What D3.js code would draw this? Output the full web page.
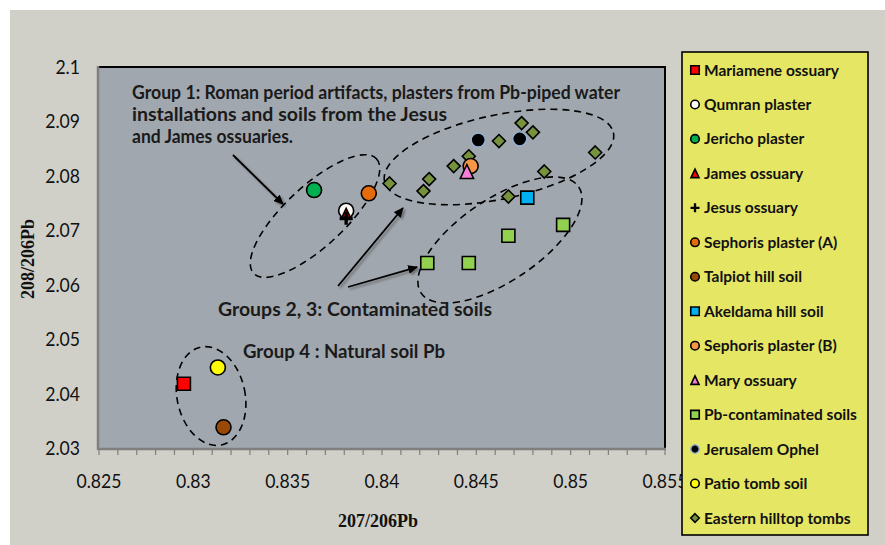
<!DOCTYPE html>
<html><head><meta charset="utf-8">
<script src="https://cdn.jsdelivr.net/npm/d3@7"></script>
<style>
html,body{margin:0;padding:0;background:#fff;}
svg{display:block;}
</style></head><body>
<svg id="chart" width="885" height="545"></svg>
<script>
// ---------- data ----------
const seriesNames = ["Mariamene ossuary","Qumran plaster","Jericho plaster","James ossuary","Jesus ossuary",
  "Sephoris plaster (A)","Talpiot hill soil","Akeldama hill soil","Sephoris plaster (B)","Mary ossuary",
  "Pb-contaminated soils","Jerusalem Ophel","Patio tomb soil","Eastern hilltop tombs"];
const mariamene = [[0.8295, 2.0418]];
const qumran = [[0.8381, 2.0736]];
const jericho = [[0.8364, 2.0774]];
const james = [[0.8381, 2.0730]];
const jesus = [[0.8381, 2.0722]];
const sephorisA = [[0.8393, 2.0768]];
const talpiot = [[0.8316, 2.0338]];
const akeldama = [[0.8477, 2.0760]];
const sephorisB = [[0.8447, 2.0818]];
const mary = [[0.8445, 2.0808]];
const pbSoils = [[0.8496, 2.0710], [0.8467, 2.0690], [0.8424, 2.0640], [0.8446, 2.0640]];
const ophel = [[0.8451, 2.0866], [0.8473, 2.0868]];
const patio = [[0.8313, 2.0448]];
const eastern = [[0.8404, 2.0786], [0.8422, 2.0772], [0.8425, 2.0794], [0.8438, 2.0818], [0.8446, 2.0836],
  [0.8462, 2.0864], [0.8474, 2.0897], [0.8480, 2.0880], [0.8486, 2.0808], [0.8467, 2.0762], [0.8513, 2.0843]];
const seriesValues = [mariamene, qumran, jericho, james, jesus, sephorisA, talpiot, akeldama,
  sephorisB, mary, pbSoils, ophel, patio, eastern];

const xTicks = [0.825, 0.83, 0.835, 0.84, 0.845, 0.85, 0.855];
const yTicks = [2.03, 2.04, 2.05, 2.06, 2.07, 2.08, 2.09, 2.1];
const xTitle = "207/206Pb";
const yTitle = "208/206Pb";
const group1Lines = ["Group 1: Roman period artifacts, plasters from Pb-piped water",
  "installations and soils from the Jesus", "and James ossuaries."];
const group23Label = "Groups 2, 3: Contaminated soils";
const group4Label = "Group 4 : Natural soil Pb";

// ---------- styles ----------
const styles = {
  "Mariamene ossuary": {shape: "square", fill: "#ff0000", s: 13},
  "Qumran plaster": {shape: "circle", fill: "#fbf9f2", s: 15},
  "Jericho plaster": {shape: "circle", fill: "#00b050", s: 15},
  "James ossuary": {shape: "triangle", fill: "#ff0000", s: 11},
  "Jesus ossuary": {shape: "plus", fill: "#000000", s: 13},
  "Sephoris plaster (A)": {shape: "circle", fill: "#e46c0a", s: 15},
  "Talpiot hill soil": {shape: "circle", fill: "#984807", s: 15},
  "Akeldama hill soil": {shape: "square", fill: "#00b0f0", s: 13},
  "Sephoris plaster (B)": {shape: "circle", fill: "#f79646", s: 15},
  "Mary ossuary": {shape: "triangle", fill: "#f47fd6", s: 14},
  "Pb-contaminated soils": {shape: "square", fill: "#92d050", s: 13},
  "Jerusalem Ophel": {shape: "circle", fill: "#000000", s: 14, stroke: "#95b3d7"},
  "Patio tomb soil": {shape: "circle", fill: "#ffff00", s: 15},
  "Eastern hilltop tombs": {shape: "diamond", fill: "#76923c", s: 13}
};

const svg = d3.select("#chart");
const W = 885, H = 545;
const plot = {left: 99, right: 665, top: 67, bottom: 448};
const x = d3.scaleLinear().domain([0.825, 0.855]).range([plot.left, plot.right]);
const y = d3.scaleLinear().domain([2.03, 2.1]).range([plot.bottom, plot.top]);

const calibri = "Lato, 'Open Sans', sans-serif";
function narrow(sel, f) {
  sel.each(function () {
    const L = this.getComputedTextLength();
    this.setAttribute("textLength", (L * f).toFixed(1));
    this.setAttribute("lengthAdjust", "spacingAndGlyphs");
  });
}
function fitTo(sel, widths) {
  sel.each(function (d, i) {
    this.setAttribute("textLength", widths[i]);
    this.setAttribute("lengthAdjust", "spacingAndGlyphs");
  });
}

// defs
const defs = svg.append("defs");
defs.append("marker").attr("id", "ah").attr("viewBox", "0 0 10 10").attr("refX", 9).attr("refY", 5)
  .attr("markerWidth", 10).attr("markerHeight", 10).attr("markerUnits", "userSpaceOnUse").attr("orient", "auto")
  .append("path").attr("d", "M0,0.5 L10,5 L0,9.5 Z").attr("fill", "#000");
const sh = defs.append("filter").attr("id", "shadow").attr("x", "-20%").attr("y", "-20%").attr("width", "140%").attr("height", "140%");
sh.append("feDropShadow").attr("dx", 2).attr("dy", 2).attr("stdDeviation", 1.3).attr("flood-color", "#000").attr("flood-opacity", 0.35);

// backgrounds
svg.append("rect").attr("x", 0).attr("y", 0).attr("width", W).attr("height", H).attr("fill", "#ffffff");
svg.append("rect").attr("x", 10).attr("y", 10).attr("width", W - 10).attr("height", H - 10).attr("fill", "#d0d0c9");
svg.append("rect").attr("x", plot.left).attr("y", plot.top).attr("width", plot.right - plot.left)
  .attr("height", plot.bottom - plot.top).attr("fill", "#a1a7ae");
svg.append("path").attr("d", `M${plot.left},${plot.top}H${plot.right}V${plot.bottom}`)
  .attr("fill", "none").attr("stroke", "#000").attr("stroke-width", 2);

// x axis with minor ticks
const minor = d3.range(0, 31).map(i => 0.825 + i * 0.001);
const gx = svg.append("g").attr("transform", `translate(0,${plot.bottom + 1})`);
gx.append("line").attr("x1", plot.left - 1).attr("x2", plot.right + 1).attr("stroke", "#7f7f7f").attr("stroke-width", 2.5);
gx.selectAll("line.t").data(minor).join("line").attr("class", "t")
  .attr("x1", d => x(d)).attr("x2", d => x(d)).attr("y1", 0).attr("y2", 6)
  .attr("stroke", "#7f7f7f").attr("stroke-width", 1.2);
const xl = svg.append("g").selectAll("text").data(xTicks).join("text")
  .attr("x", d => x(d)).attr("y", 488).attr("text-anchor", "middle")
  .attr("font-family", calibri).attr("font-size", 20).attr("fill", "#111")
  .text(d => String(+d.toFixed(3)));
narrow(xl, 0.88);

// y axis
svg.append("line").attr("x1", plot.left - 1).attr("x2", plot.left - 1).attr("y1", plot.top - 1).attr("y2", plot.bottom + 2)
  .attr("stroke", "#7f7f7f").attr("stroke-width", 2.5);
const yl = svg.append("g").selectAll("text").data(yTicks).join("text")
  .attr("x", 80).attr("y", d => y(d) + 7).attr("text-anchor", "end")
  .attr("font-family", calibri).attr("font-size", 20).attr("fill", "#111")
  .text(d => String(+d.toFixed(2)));
narrow(yl, 0.88);

// axis titles
svg.append("text").attr("x", 378).attr("y", 527).attr("text-anchor", "middle")
  .attr("font-family", "'Liberation Serif', 'Times New Roman', serif").attr("font-weight", "bold")
  .attr("font-size", 18).attr("fill", "#111").text(xTitle);
svg.append("text").attr("transform", "translate(34,259) rotate(-90)").attr("text-anchor", "middle")
  .attr("font-family", "'Liberation Serif', 'Times New Roman', serif").attr("font-weight", "bold")
  .attr("font-size", 18).attr("fill", "#111").text(yTitle);

// ---------- annotations: dashed ellipses (data-space centres) ----------
const ellipses = [
  {cx: 0.83645, cy: 2.07262, rx: 84, ry: 30, rot: -43},
  {cx: 0.84620, cy: 2.08346, rx: 117, ry: 42, rot: -12},
  {cx: 0.84625, cy: 2.06822, rx: 95, ry: 41, rot: -34},
  {cx: 0.83094, cy: 2.03955, rx: 34, ry: 50, rot: -12}
];
svg.append("g").selectAll("ellipse").data(ellipses).join("ellipse")
  .attr("transform", d => `translate(${x(d.cx)},${y(d.cy)}) rotate(${d.rot})`)
  .attr("rx", d => d.rx).attr("ry", d => d.ry)
  .attr("fill", "none").attr("stroke", "#000").attr("stroke-width", 1.6).attr("stroke-dasharray", "7,5");

// ---------- markers ----------
function shapePath(shape, s) {
  const h = s / 2;
  switch (shape) {
    case "square": return `M${-h},${-h}H${h}V${h}H${-h}Z`;
    case "diamond": return `M0,${-h}L${h},0L0,${h}L${-h},0Z`;
    case "triangle": return `M0,${-h}L${h * 0.95},${h}L${-h * 0.95},${h}Z`;
    case "circle": return d3.arc()({innerRadius: 0, outerRadius: h, startAngle: 0, endAngle: 2 * Math.PI});
    case "plus": {
      const t = s * 0.13;
      return `M${-h},${-t}H${-t}V${-h}H${t}V${-t}H${h}V${t}H${t}V${h}H${-t}V${t}H${-h}Z`;
    }
  }
}
function drawMarker(g, st, s) {
  const p = g.append("path").attr("d", shapePath(st.shape, s)).attr("fill", st.fill);
  if (st.shape === "plus") p.attr("stroke", "none");
  else p.attr("stroke", st.stroke || "#000").attr("stroke-width", st.stroke ? 1.4 : 1.6).attr("stroke-linejoin", "miter");
}
const order = [13, 0, 1, 2, 3, 4, 5, 6, 7, 8, 9, 10, 11, 12];
const gm = svg.append("g");
order.forEach(i => {
  const st = styles[seriesNames[i]];
  gm.append("g").selectAll("g").data(seriesValues[i]).join("g")
    .attr("transform", d => `translate(${x(d[0])},${y(d[1])})`)
    .each(function () { drawMarker(d3.select(this), st, st.s); });
});

// ---------- arrows ----------
const arrows = [
  {x1: 0.83210, y1: 2.08383, x2: 0.83475, y2: 2.07483},
  {x1: 0.83767, y1: 2.05976, x2: 0.84111, y2: 2.07409},
  {x1: 0.83820, y1: 2.05958, x2: 0.84186, y2: 2.06325}
];
svg.append("g").attr("filter", "url(#shadow)").selectAll("line").data(arrows).join("line")
  .attr("x1", d => x(d.x1)).attr("y1", d => y(d.y1)).attr("x2", d => x(d.x2)).attr("y2", d => y(d.y2))
  .attr("stroke", "#000").attr("stroke-width", 1.8).attr("marker-end", "url(#ah)");

// ---------- annotation texts ----------
const g1 = svg.append("g").selectAll("text").data(group1Lines).join("text")
  .attr("x", 132).attr("y", (d, i) => 99 + i * 22)
  .attr("font-family", calibri).attr("font-weight", "bold").attr("font-size", 18).attr("fill", "#1a1a1a")
  .text(d => d);
fitTo(g1, [488, 315, 161]);
const t23 = svg.append("text").attr("x", 218).attr("y", 316)
  .attr("font-family", calibri).attr("font-weight", "bold").attr("font-size", 18).attr("fill", "#1a1a1a")
  .text(group23Label);
fitTo(t23, [274]);
const t4 = svg.append("text").attr("x", 243).attr("y", 358)
  .attr("font-family", calibri).attr("font-weight", "bold").attr("font-size", 18).attr("fill", "#1a1a1a")
  .text(group4Label);
fitTo(t4, [202]);

// ---------- legend ----------
const lg = {x: 682, y: 52, w: 186, h: 483};
svg.append("rect").attr("x", lg.x).attr("y", lg.y).attr("width", lg.w).attr("height", lg.h)
  .attr("fill", "#e6e665").attr("stroke", "#000").attr("stroke-width", 1.6);
const step = (518 - 70) / 13;
const items = svg.append("g").selectAll("g").data(seriesNames).join("g")
  .attr("transform", (d, i) => `translate(695,${70 + i * step})`);
items.each(function (d) {
  const st = styles[d];
  drawMarker(d3.select(this), st, st.shape === "plus" ? 9 : 8.5);
});
const lt = items.append("text").attr("x", 9).attr("y", 5.5)
  .attr("font-family", calibri).attr("font-weight", "bold").attr("font-size", 15.5).attr("fill", "#111")
  .text(d => d);
narrow(lt, 1.0);
</script>
</body></html>
